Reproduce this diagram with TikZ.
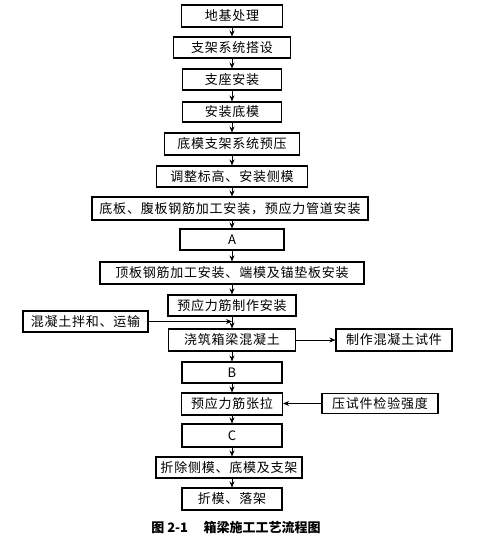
\documentclass[tikz,border=0pt]{standalone}
\usepackage{fontspec}
\setmainfont{Noto Sans CJK SC}
\newfontfamily\boxfont{Noto Sans CJK SC}[LetterSpace=6]
\usetikzlibrary{arrows.meta}
\tikzset{
  box/.style={draw=black, line width=1.1pt, inner sep=0pt, font=\boxfont\fontsize{13}{15}\selectfont, text=black},
  arr/.style={line width=0.9pt, -{Stealth[length=6pt,width=5pt]}}
}
\begin{document}
\begin{tikzpicture}[x=1pt,y=-1pt]
\useasboundingbox (0,0) rectangle (477,542);
\node[box, minimum width=101pt, minimum height=22pt] (n1) at (232,16) {地基处理};
\node[box, minimum width=117pt, minimum height=21pt] (n2) at (232,47.5) {支架系统搭设};
\node[box, minimum width=99pt, minimum height=21pt] (n3) at (232,79.5) {支座安装};
\node[box, minimum width=99pt, minimum height=20pt] (n4) at (232,112) {安装底模};
\node[box, minimum width=135pt, minimum height=22pt] (n5) at (232,144) {底模支架系统预压};
\node[box, minimum width=151pt, minimum height=21pt] (n6) at (232,176.5) {调整标高、安装侧模};
\node[box, minimum width=276pt, minimum height=23pt] (n7) at (230,208.5) {底板、腹板钢筋加工安装，预应力管道安装};
\node[box, minimum width=104pt, minimum height=21pt] (n8) at (232,239.5) {A};
\node[box, minimum width=264pt, minimum height=22pt] (n9) at (232,273) {顶板钢筋加工安装、端模及锚垫板安装};
\node[box, minimum width=128pt, minimum height=21pt] (n10) at (232,305.5) {预应力筋制作安装};
\node[box, minimum width=125pt, minimum height=21pt] (n11) at (85.5,321.5) {混凝土拌和、运输};
\node[box, minimum width=127pt, minimum height=22pt] (n12) at (232,340) {浇筑箱梁混凝土};
\node[box, minimum width=116pt, minimum height=22pt] (n13) at (394,340) {制作混凝土试件};
\node[box, minimum width=100pt, minimum height=21pt] (n14) at (232,372.5) {B};
\node[box, minimum width=101pt, minimum height=22pt] (n15) at (232,404) {预应力筋张拉};
\node[box, minimum width=116pt, minimum height=20pt] (n16) at (380,403.5) {压试件检验强度};
\node[box, minimum width=100pt, minimum height=23pt] (n17) at (232,435.5) {C};
\node[box, minimum width=146pt, minimum height=21pt] (n18) at (229,467.5) {折除侧模、底模及支架};
\node[box, minimum width=100pt, minimum height=22pt] (n19) at (232,499) {折模、落架};
\node[font=\fontsize{13}{15}\selectfont\bfseries] (cap) at (236,528) {图 2-1\hspace{1.2em}箱梁施工工艺流程图};
\draw[arr] (n1.south) -- (n2.north);
\draw[arr] (n2.south) -- (n3.north);
\draw[arr] (n3.south) -- (n4.north);
\draw[arr] (n4.south) -- (n5.north);
\draw[arr] (n5.south) -- (n6.north);
\draw[arr] (n6.south) -- (n7.north -| n6.south);
\draw[arr] (n7.south -| n8.north) -- (n8.north);
\draw[arr] (n8.south) -- (n9.north);
\draw[arr] (n9.south) -- (n10.north);
\draw[arr] (n10.south) -- (n12.north);
\coordinate (j) at (n11.east -| n10.south);
\draw[arr] (n11.east) -- (j);
\draw[arr] (n12.east) -- (n13.west);
\draw[arr] (n12.south) -- (n14.north);
\draw[arr] (n14.south) -- (n15.north);
\draw[arr] (n16.west) -- (n16.west -| n15.east);
\draw[arr] (n15.south) -- (n17.north);
\draw[arr] (n17.south) -- (n18.north -| n17.south);
\draw[arr] (n18.south -| n19.north) -- (n19.north);
\end{tikzpicture}
\end{document}
